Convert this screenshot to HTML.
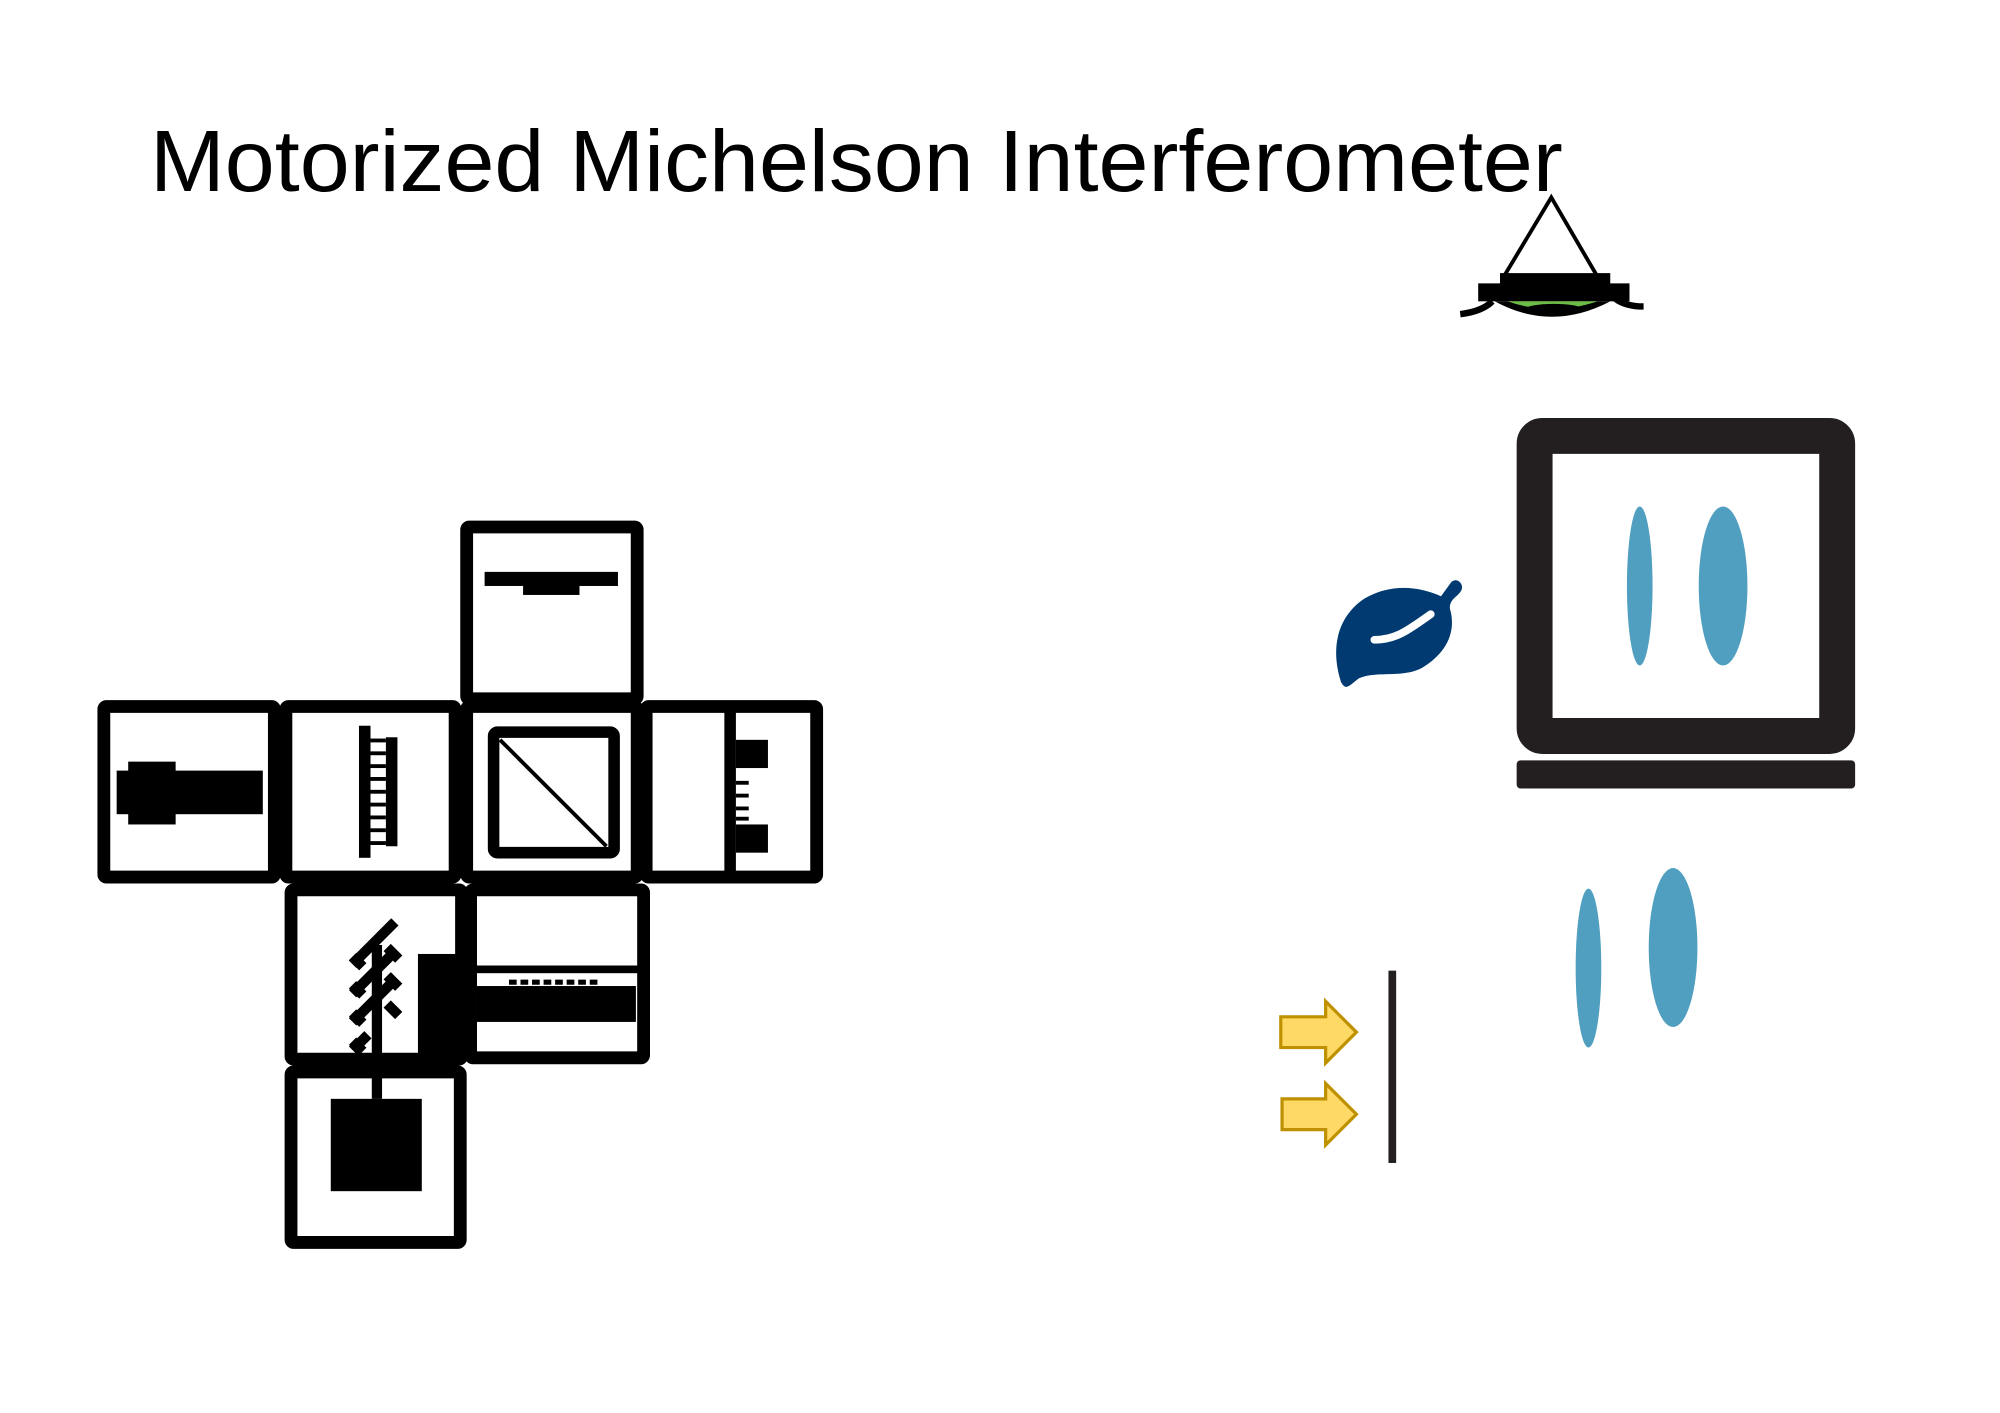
<!DOCTYPE html>
<html><head><meta charset="utf-8"><style>html,body{margin:0;padding:0;background:#fff}svg{display:block}</style></head>
<body>
<svg width="2000" height="1413" viewBox="0 0 1560 1102" preserveAspectRatio="none" xmlns="http://www.w3.org/2000/svg">
<rect width="1560" height="1102" fill="#fff"/>
<g transform="translate(-3,-3)">
<text x="120" y="152" font-family="Liberation Sans, sans-serif" font-size="68" textLength="1102" lengthAdjust="spacingAndGlyphs" fill="#000">Motorized Michelson Interferometer</text>
<g fill="none" stroke="#000" stroke-width="10" stroke-linejoin="round">
<rect x="367" y="414" width="133" height="134" rx="2"/>
<rect x="84" y="554" width="133" height="133" rx="2"/>
<rect x="226" y="554" width="132" height="133" rx="2"/>
<rect x="367" y="554" width="133" height="133" rx="2"/>
<rect x="507" y="554" width="133" height="133" rx="2"/>
<rect x="230" y="697" width="133" height="132" rx="2"/>
<rect x="370" y="697" width="135" height="131" rx="2"/>
<rect x="230" y="839" width="132" height="133" rx="2"/>
<rect x="388" y="574" width="94" height="94" rx="3" stroke-width="9"/>
</g>
<line x1="393" y1="580" x2="476" y2="663" stroke="#000" stroke-width="3"/>
<g fill="#000">
<rect x="94" y="604" width="46" height="34"/><rect x="103" y="597" width="37" height="49"/><rect x="139" y="604" width="69" height="34"/>
<rect x="283" y="569" width="9" height="103"/><rect x="304" y="578" width="9" height="85"/>
<rect x="292" y="579" width="12" height="3"/><rect x="292" y="589" width="12" height="3"/><rect x="292" y="599" width="12" height="3"/><rect x="292" y="609" width="12" height="3"/><rect x="292" y="619" width="12" height="3"/><rect x="292" y="629" width="12" height="3"/><rect x="292" y="639" width="12" height="3"/><rect x="292" y="649" width="12" height="3"/><rect x="292" y="659" width="12" height="3"/>
<rect x="568" y="556" width="9" height="130"/><rect x="577" y="580" width="25" height="22"/><rect x="577" y="646" width="25" height="22"/>
<rect x="577" y="612" width="10" height="3"/><rect x="577" y="622" width="10" height="3"/><rect x="577" y="632" width="10" height="3"/><rect x="577" y="640" width="10" height="3"/>
<rect x="381" y="449" width="104" height="11"/><rect x="411" y="459" width="44" height="8"/>
<rect x="293" y="740" width="8" height="120"/>
<rect x="329" y="747" width="30" height="78"/><rect x="359" y="697" width="16" height="131"/>
<rect x="370" y="756" width="133" height="6"/><rect x="375" y="772" width="124" height="28"/>
<rect x="261" y="860" width="71" height="72"/>
</g>
<g stroke="#000" stroke-width="8" fill="none">
<line x1="278" y1="755" x2="311" y2="722"/><line x1="278" y1="778" x2="311" y2="745"/><line x1="278" y1="800" x2="311" y2="767"/><line x1="278" y1="822" x2="290" y2="810"/>
<line x1="305" y1="742" x2="314" y2="751"/><line x1="305" y1="764" x2="314" y2="773"/><line x1="305" y1="786" x2="314" y2="795"/>
<line x1="278" y1="749" x2="286" y2="757"/><line x1="278" y1="771" x2="286" y2="779"/><line x1="278" y1="793" x2="286" y2="801"/><line x1="278" y1="815" x2="286" y2="823"/>
</g>
<line x1="400" y1="769" x2="472" y2="769" stroke="#000" stroke-width="4" stroke-dasharray="6,3"/>
</g>
<g transform="translate(-6,-3)">
<polyline points="1180,217 1216,157 1251,217" fill="none" stroke="#000" stroke-width="3"/>
<rect x="1176" y="216" width="86" height="14" fill="#000"/>
<rect x="1159" y="224" width="118" height="14" fill="#000"/>
<path d="M1172,238 Q1216,262 1262,238 Z" fill="#000"/>
<path d="M1182,238 Q1216,250 1252,238 Z" fill="#6cbd45"/>
<ellipse cx="1218" cy="244" rx="22" ry="4" fill="#000"/>
<path d="M1145,248 Q1162,246 1170,238" stroke="#000" stroke-width="5" fill="none"/>
<path d="M1288,242 Q1274,242 1266,236" stroke="#000" stroke-width="5" fill="none"/>
<path d="M1052,535 C1044,510 1048,485 1070,470 C1090,458 1112,460 1130,468 L1138,457 C1142,453 1148,458 1146,463 C1144,468 1136,470 1137,478 C1142,495 1135,512 1115,524 C1100,532 1080,526 1066,532 C1058,538 1056,542 1052,535 Z" fill="#003a70"/>
<path d="M1078,502 C1095,502 1105,494 1122,482" stroke="#fff" stroke-width="6" stroke-linecap="round" fill="none"/>
<rect x="1203" y="343" width="236" height="234" rx="6" fill="none" stroke="#231f20" stroke-width="28"/>
<rect x="1189" y="596" width="264" height="22" rx="3" fill="#231f20"/>
<g fill="#519fc0">
<ellipse cx="1285" cy="460" rx="10" ry="62"/><ellipse cx="1350" cy="460" rx="19" ry="62"/>
<ellipse cx="1245" cy="758" rx="10" ry="62"/><ellipse cx="1311" cy="742" rx="19" ry="62"/>
</g>
<rect x="1089" y="760" width="6" height="150" fill="#231f20"/>
<g fill="#ffd966" stroke="#bf9000" stroke-width="2.5">
<path d="M1005,796 H1040 V784 L1064,808 L1040,832 V820 H1005 Z"/>
<path d="M1006,860 H1040 V848 L1064,872 L1040,896 V884 H1006 Z"/>
</g>
</g>
</svg>
</body></html>
